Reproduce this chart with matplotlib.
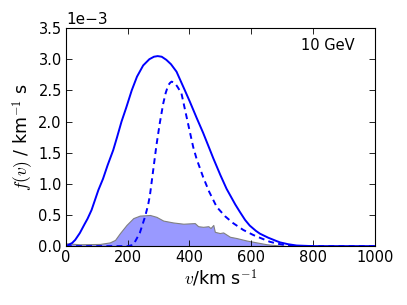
import matplotlib
matplotlib.use("Agg")
import matplotlib.pyplot as plt
import numpy as np

plt.rcParams['mathtext.fontset'] = 'cm'
plt.rcParams['font.family'] = ['DejaVu Sans']

# total speed distribution (solid), units of 1e-3 km^-1 s
v_solid = [0, 20, 30, 45, 60, 70, 83, 94, 105, 120, 135, 153, 165, 180, 195, 213, 230, 250, 270,
           285, 297, 310, 325, 340, 358, 385, 401, 423, 444, 465, 477, 500, 520, 548, 563, 580,
           595, 615, 628, 655, 680, 693, 720, 747, 800, 1000]
f_solid = [0, 0.05, 0.10, 0.21, 0.35, 0.44, 0.58, 0.74, 0.90, 1.08, 1.30, 1.54, 1.74, 2.0, 2.22, 2.5, 2.72, 2.9, 3.0,
           3.04, 3.05, 3.04, 2.99, 2.92, 2.80, 2.50, 2.32, 2.06, 1.82, 1.56, 1.41, 1.14, 0.92, 0.67, 0.55, 0.42,
           0.33, 0.245, 0.20, 0.135, 0.085, 0.06, 0.03, 0.01, 0, 0]

# dashed distribution
v_dash = [0, 200, 218, 239, 256, 266, 272, 282, 293, 304, 315, 323, 331, 337, 342, 348, 355, 362, 374,
          385, 396, 412, 423, 444, 463, 488, 515, 541, 574, 606, 635, 660, 685, 710, 740, 1000]
f_dash = [0, 0, 0.02, 0.21, 0.47, 0.66, 0.82, 1.20, 1.62, 1.98, 2.29, 2.46, 2.58, 2.62, 2.64, 2.63, 2.60, 2.55, 2.45,
          2.20, 1.95, 1.59, 1.40, 1.11, 0.88, 0.63, 0.48, 0.37, 0.26, 0.18, 0.12, 0.07, 0.04, 0.015, 0, 0]

# shaded distribution
v_fill = [0, 45, 110, 142, 159, 175, 196, 218, 239, 272, 293, 315, 347, 380, 417, 428,
          444, 461, 468, 477, 482, 498, 509, 531, 552, 585, 617, 650, 693, 720]
f_fill = [0.046, 0.03, 0.035, 0.06, 0.10, 0.21, 0.34, 0.45, 0.49, 0.50, 0.47, 0.41, 0.38, 0.36, 0.37, 0.32,
          0.31, 0.32, 0.29, 0.34, 0.23, 0.21, 0.22, 0.15, 0.13, 0.09, 0.06, 0.03, 0.01, 0.0]

x_ticks = [0, 200, 400, 600, 800, 1000]
y_ticks = [0.0, 0.5, 1.0, 1.5, 2.0, 2.5, 3.0, 3.5]
label_text = "10 GeV"

scale = 1e-3

fig = plt.figure(figsize=(4.07, 3.05), dpi=100)
ax = fig.add_axes([0.162, 0.193, 0.759, 0.715])

ax.fill_between(v_fill, 0, np.array(f_fill) * scale, facecolor='#9999ff', edgecolor='#808080', lw=0.8)
ax.plot(v_solid, np.array(f_solid) * scale, color='#0000ff', lw=1.4)
ax.plot(v_dash, np.array(f_dash) * scale, color='#0000ff', lw=1.4, dashes=(3, 2.2))

ax.set_xlim(0, 1000)
ax.set_ylim(0, 3.5e-3)
ax.set_xticks(x_ticks)
ax.set_yticks(np.array(y_ticks) * scale)
ax.ticklabel_format(axis='y', style='sci', scilimits=(0, 0))
ax.yaxis.get_offset_text().set_fontsize(11)
ax.tick_params(direction='in', top=True, right=True, length=4, width=0.6, labelsize=10.5, pad=3)
for s in ax.spines.values():
    s.set_linewidth(0.8)

ax.set_xlabel(r'$v$/km s$^{-1}$', fontsize=12.5, labelpad=2)
ax.set_ylabel(r'$f(v)$ / km$^{-1}$ s', fontsize=12.5, labelpad=2)
ax.text(0.935, 0.92, label_text, transform=ax.transAxes, ha='right', va='center', fontsize=10.5)

fig.savefig('out.png', dpi=100)
